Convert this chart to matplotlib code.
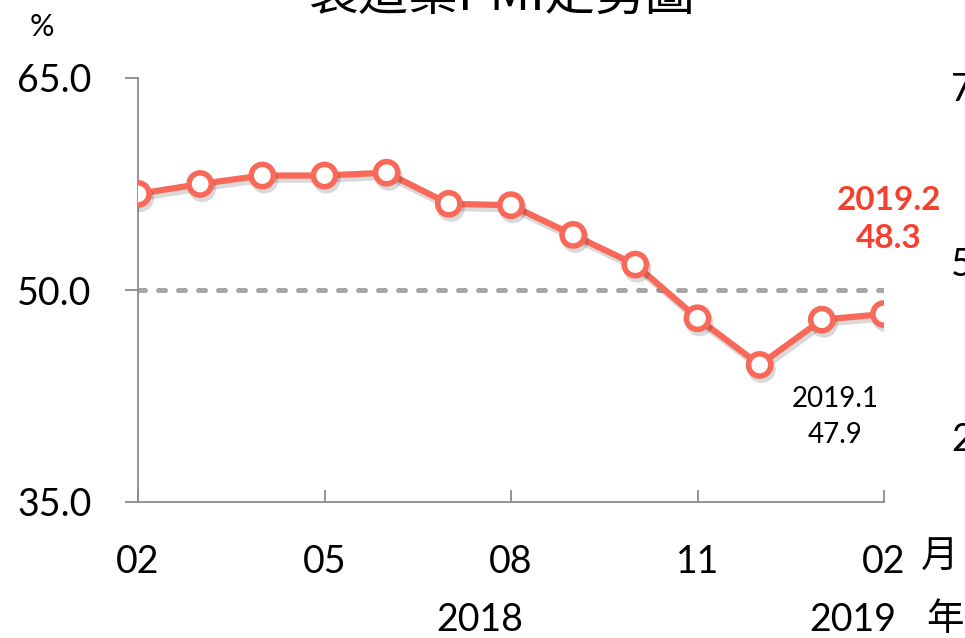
import matplotlib
matplotlib.use("Agg")
import matplotlib.pyplot as plt
import matplotlib.patheffects as pe
from matplotlib.transforms import blended_transform_factory

# Taiwan manufacturing PMI, 2018.02 - 2019.02
months = ["02", "03", "04", "05", "06", "07", "08", "09", "10", "11", "12", "01", "02"]
pmi = [56.8, 57.5, 58.1, 58.1, 58.3, 56.1, 56.0, 53.9, 51.8, 48.0, 44.7, 47.9, 48.3]
shown_ticks = [0, 3, 6, 9, 12]
years = ["2018", "2019"]
year_pos = [5.5, 11.5]
y_ticks = [35.0, 50.0, 65.0]
right_ticks = ["75", "50", "25"]

plt.rcParams['font.family'] = ['Lato', 'Noto Sans CJK TC', 'DejaVu Sans']

LINE = "#F8695A"
RED = "#F4402F"
GREY = "#8C8C8C"

fig = plt.figure(figsize=(9.65, 6.38), dpi=100)
ax = fig.add_axes([138/965, 1 - 502/638, (884 - 138)/965, (502 - 78)/638])

x = list(range(len(pmi)))

# 50 line
ax.plot([0, 12], [50, 50], color="#A6A6A6", lw=3.6, dashes=(1.4, 2.6),
        dash_capstyle="round", zorder=2)

ax.plot(x, pmi, color=LINE, lw=4.5, marker="o", ms=16, mfc="white",
        mec=LINE, mew=4.0, zorder=3, solid_joinstyle="round",
        path_effects=[pe.SimpleLineShadow(offset=(1.5, -3), shadow_color="black", alpha=0.15),
                      pe.Normal()])

ax.set_xlim(0, 12)
ax.set_ylim(35, 65)
for s in ["top", "right"]:
    ax.spines[s].set_visible(False)
for s in ["left", "bottom"]:
    ax.spines[s].set_color(GREY)
    ax.spines[s].set_linewidth(1.3)

ax.set_yticks(y_ticks)
ax.set_yticklabels([f"{v:.1f}" for v in y_ticks], fontsize=27)
ax.tick_params(axis="y", direction="out", length=9.4, width=1.3, color=GREY, pad=24)

ax.set_xticks(shown_ticks)
ax.set_xticklabels([months[i] for i in shown_ticks], fontsize=27)
ax.tick_params(axis="x", direction="in", length=8.6, width=1.3, color=GREY, pad=30)

trans = blended_transform_factory(ax.transData, fig.transFigure)
for yr, p in zip(years, year_pos):
    ax.text(p, 1 - 620/638, yr, transform=trans, ha="center", va="center",
            fontsize=27, clip_on=False)

fig.text(940/965, 1 - 557/638, "月", ha="center", va="center", fontsize=27)
fig.text(945/965, 1 - 619/638, "年", ha="center", va="center", fontsize=27)
fig.text(42/965, 1 - 27/638, "%", ha="center", va="center", fontsize=22)

# annotations
ax.text(11.21, 47.9 - 6.9, "2019.1\n47.9", ha="center", va="center",
        fontsize=20, linespacing=1.45)
ax.text(12.08, 48.3 + 6.7, "2019.2\n48.3", ha="center", va="center",
        fontsize=24, fontweight="bold", color=RED, linespacing=1.35)

# title, cut off at the top edge
fig.text(502/965, 1 - 10/638, "製造業PMI走勢圖", ha="center", va="baseline",
         fontsize=36, family=['Noto Sans CJK TC', 'DejaVu Sans'])

# axis labels of the next chart, cut at the right edge
for lbl, yp in zip(right_ticks, [90, 265, 440]):
    fig.text(951/965, 1 - yp/638, lbl, ha="left", va="center", fontsize=27)

fig.savefig("out.png", dpi=100)
